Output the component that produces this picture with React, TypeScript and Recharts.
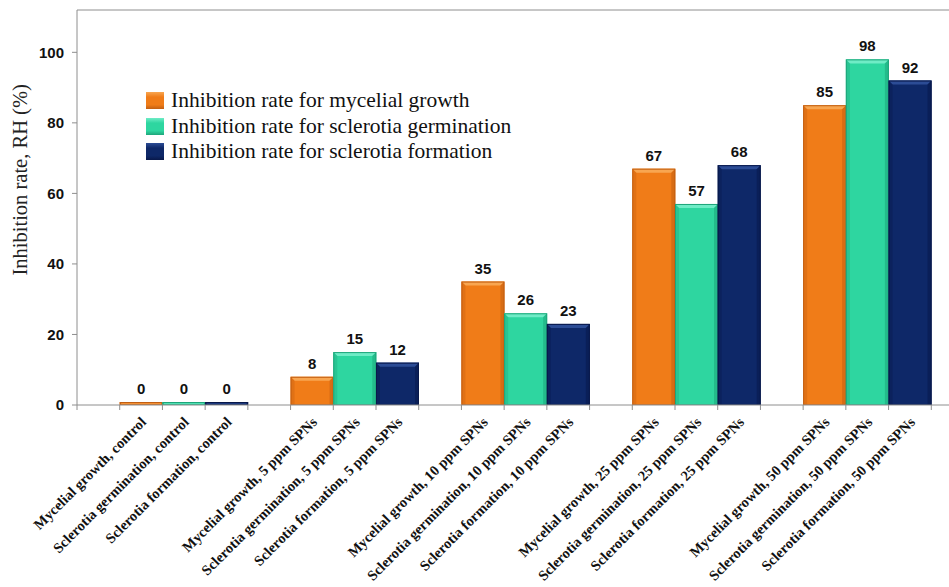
import React from "react"
import {
  BarChart, Bar, XAxis, YAxis, Legend, LabelList, ReferenceLine, usePlotArea,
} from "recharts"

// treatments, in the order they sit on the x axis
const doses = ["control", "5 ppm SPNs", "10 ppm SPNs", "25 ppm SPNs", "50 ppm SPNs"]

// inhibition rate (%) per treatment
const mycelial = [0, 8, 35, 67, 85]
const germination = [0, 15, 26, 57, 98]
const formation = [0, 12, 23, 68, 92]

const yTicks = [0, 20, 40, 60, 80, 100]

const series = [
  { key: "mycelial", prefix: "Mycelial growth", name: "Inhibition rate for mycelial growth", values: mycelial,
    base: "#F07C18", light: "#F8A651", dark: "#C25F12" },
  { key: "germination", prefix: "Sclerotia germination", name: "Inhibition rate for sclerotia germination", values: germination,
    base: "#2ED6A0", light: "#6FECC6", dark: "#1EA57A" },
  { key: "formation", prefix: "Sclerotia formation", name: "Inhibition rate for sclerotia formation", values: formation,
    base: "#0E2868", light: "#2C4C95", dark: "#08184A" },
]

// one empty slot before each dose group, one bar per slot, Excel style
type Row = { name: string; mycelial: number | null; germination: number | null; formation: number | null }
const rows: Row[] = []
const blank = (): Row => ({ name: "", mycelial: null, germination: null, formation: null })
doses.forEach((dose, i) => {
  rows.push(blank())
  series.forEach((s) => {
    const r = blank()
    r.name = `${s.prefix}, ${dose}`
    ;(r as any)[s.key] = s.values[i]
    rows.push(r)
  })
})
rows.push(blank())

const serif = "'Liberation Serif', 'Times New Roman', serif"
const sans = "'Liberation Sans', Arial, sans-serif"
const axisGray = "#8e8e8e"

function BevelBar(props: any) {
  const { x, y, width, height, base, light, dark } = props
  if (!height || height <= 0) return null
  const b = Math.min(4, height / 2)
  return (
    <g>
      <rect x={x} y={y} width={width} height={height} fill={base} />
      <polygon
        points={`${x},${y} ${x + width},${y} ${x + width - b},${y + b} ${x + b},${y + b}`}
        fill={light}
      />
      <polygon
        points={`${x},${y} ${x + b},${y + b} ${x + b},${y + height} ${x},${y + height}`}
        fill={dark}
        opacity={0.35}
      />
      <polygon
        points={`${x + width},${y} ${x + width - b},${y + b} ${x + width - b},${y + height} ${x + width},${y + height}`}
        fill={dark}
        opacity={0.55}
      />
      <rect x={x + 0.5} y={y + 0.5} width={width - 1} height={height - 0.5} fill="none" stroke={dark} strokeWidth={1} />
    </g>
  )
}

function SlantTick(props: any) {
  const { x, y, payload } = props
  if (!payload.value) return null
  return (
    <g transform={`translate(${x + 6},${y + 10})`}>
      <text
        textAnchor="end"
        transform="rotate(-45)"
        fontFamily={serif}
        fontWeight="bold"
        fontSize={14.5}
        fill="#111"
      >
        {payload.value}
      </text>
    </g>
  )
}

// tick marks between the slots, like the original
function EdgeTicks() {
  const plot = usePlotArea()
  if (!plot) return null
  const step = plot.width / rows.length
  const bottom = plot.y + plot.height
  return (
    <g>
      {rows.map((_, i) => (
        <line key={i} x1={plot.x + i * step} x2={plot.x + i * step} y1={bottom} y2={bottom + 5} stroke={axisGray} />
      ))}
    </g>
  )
}

function LegendBox() {
  return (
    <div style={{ fontFamily: serif, fontSize: 21.5, lineHeight: "25.5px", color: "#111" }}>
      {series.map((s) => (
        <div key={s.key} style={{ display: "flex", alignItems: "center", whiteSpace: "nowrap" }}>
          <span
            style={{
              display: "inline-block", width: 18, height: 17, marginRight: 7,
              background: `linear-gradient(${s.light}, ${s.base} 30%, ${s.base} 75%, ${s.dark})`,
            }}
          />
          {s.name}
        </div>
      ))}
    </div>
  )
}

function YTitle(props: any) {
  const { viewBox } = props
  const cx = viewBox.x + 27
  const cy = viewBox.y + viewBox.height * 0.43
  return (
    <text
      x={cx}
      y={cy}
      transform={`rotate(-90, ${cx}, ${cy})`}
      textAnchor="middle"
      fontFamily={serif}
      fontSize={20.5}
      fill="#222"
    >
      Inhibition rate, RH (%)
    </text>
  )
}

export default function App() {
  return (
    <div style={{ position: "absolute", left: 0, top: 0, width: 949, height: 587, overflow: "hidden", background: "#fff" }}>
      <BarChart
        width={975}
        height={587}
        data={rows}
        margin={{ top: 10, right: 1, bottom: 0, left: 0 }}
        barCategoryGap={0}
        barGap={0}
      >
        <XAxis
          dataKey="name"
          height={182}
          interval={0}
          tick={<SlantTick />}
          tickLine={false}
          axisLine={{ stroke: axisGray }}
        />
        <YAxis
          width={77}
          domain={[0, 112]}
          ticks={yTicks}
          allowDataOverflow
          tickSize={5}
          tickMargin={8}
          tickLine={{ stroke: axisGray }}
          axisLine={{ stroke: axisGray }}
          tick={{ fontFamily: sans, fontWeight: "bold", fontSize: 15, fill: "#111" }}
          label={<YTitle />}
        />
        <ReferenceLine y={112} stroke={axisGray} />
        <Legend
          layout="vertical"
          align="center"
          verticalAlign="middle"
          content={<LegendBox />}
          wrapperStyle={{ left: 146, top: 88, width: "auto" }}
        />
        {series.map((s) => (
          <Bar
            key={s.key}
            dataKey={s.key}
            name={s.name}
            stackId="all"
            fill={s.base}
            isAnimationActive={false}
            minPointSize={(_v: any, i: number) => ((rows[i] as any)[s.key] === 0 ? 3 : 0)}
            shape={(p: any) => <BevelBar {...p} base={s.base} light={s.light} dark={s.dark} />}
          >
            <LabelList
              dataKey={s.key}
              position="top"
              offset={8}
              style={{ fontFamily: sans, fontWeight: "bold", fontSize: 15, fill: "#111" }}
            />
          </Bar>
        ))}
        <EdgeTicks />
      </BarChart>
    </div>
  )
}
